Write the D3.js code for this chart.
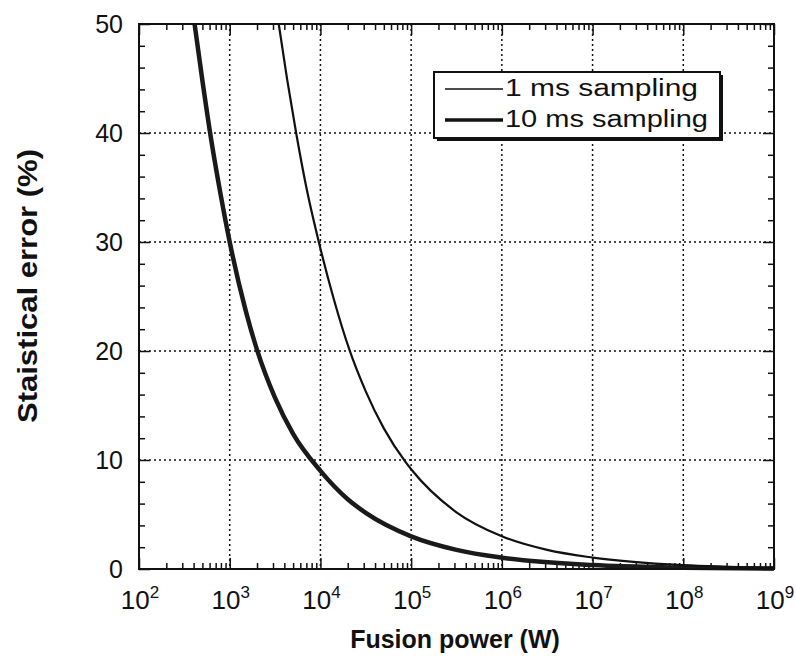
<!DOCTYPE html>
<html>
<head>
<meta charset="utf-8">
<script src="https://cdn.jsdelivr.net/npm/d3@7"></script>
<style>
  body { margin: 0; background: #fff; }
  svg { font-family: "Liberation Sans", Arial, Helvetica, sans-serif; }
</style>
</head>
<body>
<div id="grafico"></div>
<script>
// datos
const POWER_1MS = [3470, 4300, 5400, 7000, 9600, 14000, 20900, 31600, 50000, 87000, 100000, 316000, 1e6, 3.16e6, 1e7, 1e8, 1e9];
const ERROR_1MS = [50, 44.9, 40, 35, 30, 24.8, 20.1, 16.3, 12.9, 9.8, 9.15, 5.2, 3.0, 1.75, 1.05, 0.35, 0.12];
const POWER_10MS = [410, 500, 630, 800, 1000, 1500, 2000, 3162, 5000, 10000, 20000, 31600, 100000, 316000, 1e6, 1e7, 1e8, 1e9];
const ERROR_10MS = [50, 44.8, 39.2, 34.2, 30, 23.7, 20.1, 15.7, 12.4, 9.0, 6.4, 5.15, 3.0, 1.76, 1.04, 0.36, 0.125, 0.043];
const X_EXPONENTES = [2, 3, 4, 5, 6, 7, 8, 9];
const Y_TICKS = [0, 10, 20, 30, 40, 50];
const Y_MINOR = [2, 4, 6, 8, 12, 14, 16, 18, 22, 24, 26, 28, 32, 34, 36, 38, 42, 44, 46, 48];
const LEYENDA = ["1 ms sampling", "10 ms sampling"];

const WIDTH = 796;
const HEIGHT = 660;
const LEFT = 139, RIGHT = 774, TOP = 24, BOTTOM = 569;

const svg = d3.select("#grafico").append("svg").attr("width", WIDTH).attr("height", HEIGHT);

const escalaX = d3.scaleLog().domain([1e2, 1e9]).range([LEFT, RIGHT]);
const escalaY = d3.scaleLinear().domain([0, 50]).range([BOTTOM, TOP]);

// ticks menores del eje x (2..9 en cada decada)
var minorX = [];
X_EXPONENTES.slice(0, -1).forEach(function(e) {
    for (var k = 2; k <= 9; k++) minorX.push(k * Math.pow(10, e));
});
var majorX = X_EXPONENTES.map(e => Math.pow(10, e));

// grilla punteada
var grilla = svg.append("g").attr("stroke", "#111").attr("stroke-width", 1.5).attr("stroke-dasharray", "2,3");
grilla.selectAll(".gx")
    .data(majorX.slice(1, -1))
    .enter().append("line")
    .attr("x1", d => escalaX(d)).attr("x2", d => escalaX(d))
    .attr("y1", TOP).attr("y2", BOTTOM);
grilla.selectAll(".gy")
    .data(Y_TICKS.slice(1, -1))
    .enter().append("line")
    .attr("x1", LEFT).attr("x2", RIGHT)
    .attr("y1", d => escalaY(d)).attr("y2", d => escalaY(d));

// ejes con ticks hacia adentro
function limpiar(s) {
    s.select(".domain").remove();
    s.selectAll("line").attr("stroke", "#111").attr("stroke-width", 1.5);
}
function ejeX(pos, sign) {
    var g = svg.append("g").attr("transform", "translate(0," + pos + ")");
    g.call(d3.axisBottom(escalaX).tickValues(minorX).tickSize(sign * 6).tickFormat(""));
    var g2 = svg.append("g").attr("transform", "translate(0," + pos + ")");
    g2.call(d3.axisBottom(escalaX).tickValues(majorX).tickSize(sign * 11).tickFormat(""));
    limpiar(g); limpiar(g2);
}
function ejeY(pos, sign) {
    var g = svg.append("g").attr("transform", "translate(" + pos + ",0)");
    g.call(d3.axisLeft(escalaY).tickValues(Y_MINOR).tickSize(sign * 6).tickFormat(""));
    var g2 = svg.append("g").attr("transform", "translate(" + pos + ",0)");
    g2.call(d3.axisLeft(escalaY).tickValues(Y_TICKS).tickSize(sign * 11).tickFormat(""));
    limpiar(g); limpiar(g2);
}
ejeX(BOTTOM, -1);
ejeX(TOP, 1);
ejeY(LEFT, -1);
ejeY(RIGHT, 1);

// curvas
var linea = d3.line()
    .x(d => escalaX(d[0]))
    .y(d => escalaY(d[1]))
    .curve(d3.curveMonotoneX);

var datos1 = POWER_1MS.map((p, i) => [p, ERROR_1MS[i]]);
var datos10 = POWER_10MS.map((p, i) => [p, ERROR_10MS[i]]);

svg.append("path").datum(datos10)
    .attr("d", linea).attr("fill", "none")
    .attr("stroke", "#1a1a1a").attr("stroke-width", 4.5)
    .attr("stroke-linejoin", "round");
svg.append("path").datum(datos1)
    .attr("d", linea).attr("fill", "none")
    .attr("stroke", "#111").attr("stroke-width", 2.2)
    .attr("stroke-linejoin", "round");

// marco
svg.append("rect")
    .attr("x", LEFT).attr("y", TOP)
    .attr("width", RIGHT - LEFT).attr("height", BOTTOM - TOP)
    .attr("fill", "none").attr("stroke", "#111").attr("stroke-width", 2);

// etiquetas eje x
var etiquetasX = svg.append("g").selectAll("text")
    .data(X_EXPONENTES)
    .enter().append("text")
    .attr("x", d => escalaX(Math.pow(10, d)) + 1)
    .attr("y", 609)
    .attr("text-anchor", "middle")
    .attr("font-size", 26)
    .attr("fill", "#111");
etiquetasX.append("tspan").text("10");
etiquetasX.append("tspan").attr("dy", -11).attr("font-size", 17).text(d => d);

// etiquetas eje y
svg.append("g").selectAll("text")
    .data(Y_TICKS)
    .enter().append("text")
    .attr("x", 123)
    .attr("y", d => escalaY(d) + 9)
    .attr("text-anchor", "end")
    .attr("font-size", 25)
    .attr("fill", "#111")
    .text(d => d);

// titulos
svg.append("text")
    .attr("x", 455).attr("y", 648)
    .attr("text-anchor", "middle")
    .attr("font-size", 25).attr("font-weight", "bold")
    .attr("fill", "#111")
    .text("Fusion power (W)");

svg.append("text")
    .attr("transform", "translate(37,286) rotate(-90)")
    .attr("text-anchor", "middle")
    .attr("font-size", 28).attr("font-weight", "bold")
    .attr("textLength", 274).attr("lengthAdjust", "spacingAndGlyphs")
    .attr("fill", "#111")
    .text("Staistical error (%)");

// leyenda
var leyenda = svg.append("g").attr("transform", "translate(434,72)");
leyenda.append("rect")
    .attr("x", 3).attr("y", 3).attr("width", 286).attr("height", 66)
    .attr("fill", "#111");
leyenda.append("rect")
    .attr("width", 286).attr("height", 66)
    .attr("fill", "#fff").attr("stroke", "#111").attr("stroke-width", 2);

var items = leyenda.selectAll(".leyenda")
    .data(LEYENDA)
    .enter().append("g")
    .attr("class", "leyenda")
    .attr("transform", (d, i) => "translate(0," + (17 + i * 31) + ")");
items.append("line")
    .attr("x1", 11).attr("x2", 69)
    .attr("stroke", "#111")
    .attr("stroke-width", (d, i) => i === 0 ? 1.5 : 3.5);
items.append("text")
    .attr("x", 71).attr("y", 7)
    .attr("font-size", 23)
    .attr("textLength", (d, i) => i === 0 ? 193 : 203)
    .attr("lengthAdjust", "spacingAndGlyphs")
    .attr("fill", "#111")
    .text(d => d);
</script>
</body>
</html>
